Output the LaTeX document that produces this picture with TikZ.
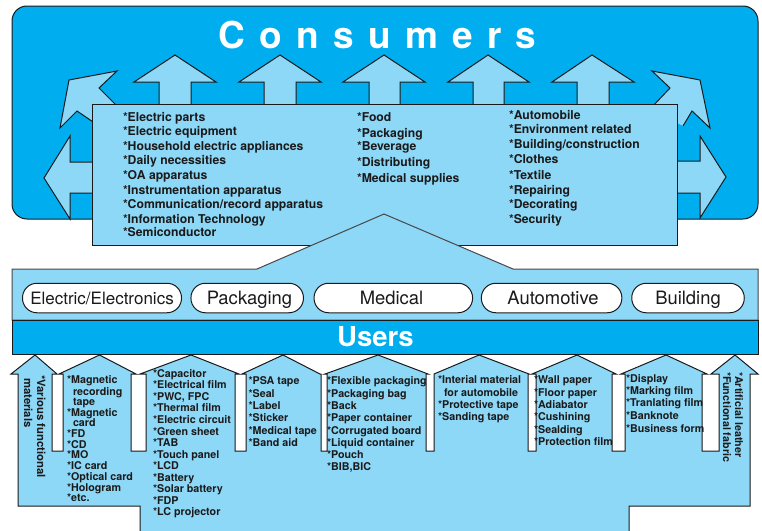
\documentclass[tikz,border=0pt]{standalone}
\usepackage{fontspec}
\setmainfont{TeX Gyre Heros}
\definecolor{deepblue}{HTML}{00AEEF}
\definecolor{paleblue}{HTML}{8DD7F7}
\definecolor{inkline}{HTML}{1A1A1A}
\tikzset{
  plate/.style={draw=inkline,line width=1pt,line join=miter,fill=paleblue},
  band/.style={draw=inkline,line width=1pt,fill=deepblue,inner sep=0pt,outer sep=0pt},
  pill/.style={draw=inkline,line width=1pt,fill=white,rounded corners=14.5pt,inner sep=0pt,outer sep=0pt,minimum height=29.5pt,text=inkline,text height=13pt,text depth=0pt,font=\fontsize{18.4}{20}\selectfont},
  itemtext/.style={anchor=base west,inner sep=0pt,outer sep=0pt,text=inkline,font=\bfseries\fontsize{10.7}{13}\selectfont},
  toptext/.style={itemtext,font=\bfseries\fontsize{12.2}{14}\selectfont},
  sidetext/.style={itemtext,rotate=-90},
  heading/.style={text=white,inner sep=0pt,outer sep=0pt,font=\bfseries}
}
\begin{document}
\begin{tikzpicture}[x=1pt,y=-1pt]
\useasboundingbox (0,0) rectangle (762,530);
% consumers panel
\node[band,rounded corners=15pt,minimum width=746pt,minimum height=213pt] (consumers) at (385,112.5) {};
\node[heading,font=\bfseries\fontsize{37}{40}\selectfont] (consumerstitle) at (377.5,35) {\spaceskip=14.3pt C o n s u m e r s};
% arrows leaving the centre box
\foreach \t/\l/\r/\sl/\sr in {175/134/216/159/191,280/239/321/264/296,384/343/425/369/400,488/448/529/473/504,592/552/634/577/609}
  \draw[plate] (\sl,110) -- (\sl,82) -- (\l,82) -- (\t,55) -- (\r,82) -- (\sr,82) -- (\sr,110);
\draw[plate] (99,126) -- (77,111) -- (60,128) -- (69,80) -- (117,71) -- (99,88) -- (120,109);
\draw[plate] (683,126) -- (692,111) -- (710,128) -- (700,80) -- (652,71) -- (670,88) -- (650,109);
\draw[plate] (98,162) -- (70,162) -- (70,136) -- (44,178) -- (70,219) -- (70,193) -- (98,193);
\draw[plate] (672,161) -- (700,161) -- (700,136) -- (726,177) -- (700,218) -- (700,193) -- (672,193);
% centre box
\node[plate,inner sep=0pt,outer sep=0pt,minimum width=585pt,minimum height=141pt] (applications) at (384.5,174.5) {};
\foreach \n/\y/\t in {1/117/{*Electric parts},2/131/{*Electric equipment},3/146/{*Household electric appliances},4/160/{*Daily necessities},5/175/{*OA apparatus},6/190/{*Instrumentation apparatus},7/204/{*Communication/record apparatus},8/219/{*Information Technology},9/232/{*Semiconductor}}
  \node[toptext] (ca\n) at (123,\y+4.4) {\t};
\foreach \n/\y/\t in {1/117/{*Food},2/133/{*Packaging},3/146/{*Beverage},4/162/{*Distributing},5/178/{*Medical supplies}}
  \node[toptext] (cb\n) at (357,\y+4.4) {\t};
\foreach \n/\y/\t in {1/115/{*Automobile},2/129/{*Environment related},3/144/{*Building/construction},4/159/{*Clothes},5/175/{*Textile},6/190/{*Repairing},7/204/{*Decorating},8/219/{*Security}}
  \node[toptext] (cc\n) at (509,\y+4.4) {\t};
% users panel
\draw[plate,draw=inkline!80] (12,320) -- (12,269) -- (257,269) -- (384,214) -- (513,269) -- (758,269) -- (758,320) -- cycle;
\node[pill,minimum width=159pt,font=\fontsize{17}{20}\selectfont] (electric) at (102,298) {Electric/Electronics};
\node[pill,minimum width=112.5pt] (packaging) at (247.2,298) {\hspace*{4.6pt}Packaging};
\node[pill,minimum width=158.5pt] (medical) at (393.3,298) {Medical\hspace*{3.6pt}};
\node[pill,minimum width=140.5pt] (automotive) at (551.6,298) {\hspace*{2.8pt}Automotive};
\node[pill,minimum width=112.5pt] (building) at (688,298) {Building};
\node[band,minimum width=746pt,minimum height=34pt] (users) at (385,337) {};
\node[heading,font=\bfseries\fontsize{27.5}{30}\selectfont] (userstitle) at (375.5,337) {Users};
% supply arrow
\draw[plate] (140,535) -- (140,506) -- (18,506) -- (18,374) -- (11,374) -- (35,355) -- (57,374) -- (52,374) -- (52,451) -- (63,451) -- (63,374) -- (59,374)
  -- (99.5,355) -- (136,374) -- (131,374) -- (131,451) -- (146,451) -- (146,374) -- (140,374)
  -- (191,355) -- (239,374) -- (235,374) -- (235,451) -- (246,451) -- (246,374) -- (242,374)
  -- (283,355) -- (320,374) -- (321,374) -- (321,451) -- (327,451) -- (327,374) -- (325,374)
  -- (378,355) -- (428,374) -- (426,374) -- (426,451) -- (434,451) -- (434,374)
  -- (479,355) -- (529,374) -- (528,374) -- (528,451) -- (536,451) -- (536,374) -- (532,374)
  -- (577,355) -- (616,374) -- (612,374) -- (612,451) -- (625,451) -- (625,374) -- (621,374)
  -- (666,355) -- (707,374) -- (702,374) -- (702,451) -- (719,451) -- (719,374) -- (711,374)
  -- (735,355) -- (758,374) -- (750,374) -- (750,506) -- (629,506) -- (629,535);
% supply lists
\node[sidetext,font=\bfseries\fontsize{11.3}{13}\selectfont] (va) at (37,375) {*Various functional};
\node[sidetext,font=\bfseries\fontsize{11.3}{13}\selectfont] (vb) at (24,378) {materials};
\foreach \n/\x/\y/\t in {1/67/379/{*Magnetic},2/73/391/{recording},3/73/401/{tape},4/67/412/{*Magnetic},5/73/422/{card},6/67/433/{*FD},7/67/444/{*CD},8/67/454/{*MO},9/67/465/{*IC card},10/67/476/{*Optical card},11/67/487/{*Hologram},12/67/497/{*etc.}}
  \node[itemtext] (la\n) at (\x,\y+4) {\t};
\foreach \n/\y/\t in {1/373/{*Capacitor},2/384/{*Electrical film},3/396/{*PWC, FPC},4/407/{*Thermal film},5/419/{*Electric circuit},6/431/{*Green sheet},7/442/{*TAB},8/454/{*Touch panel},9/465/{*LCD},10/477/{*Battery},11/488/{*Solar battery},12/500/{*FDP},13/511/{*LC projector}}
  \node[itemtext] (lb\n) at (153,\y+4) {\t};
\foreach \n/\y/\t in {1/380/{*PSA tape},2/393/{*Seal},3/405/{*Label},4/417/{*Sticker},5/430/{*Medical tape},6/442/{*Band aid}}
  \node[itemtext] (lc\n) at (248.5,\y+4) {\t};
\foreach \n/\y/\t in {1/380/{*Flexible packaging},2/393/{*Packaging bag},3/405/{*Back},4/417/{*Paper container},5/430/{*Corrugated board},6/442/{*Liquid container},7/454/{*Pouch},8/466/{*BIB,BIC}}
  \node[itemtext] (ld\n) at (327,\y+4) {\t};
\foreach \n/\x/\y/\t in {1/438/379/{*Interial material},2/444/392/{for automobile},3/438/404/{*Protective tape},4/438/416/{*Sanding tape}}
  \node[itemtext] (le\n) at (\x,\y+4) {\t};
\foreach \n/\y/\t in {1/379/{*Wall paper},2/392/{*Floor paper},3/404/{*Adiabator},4/416/{*Cushining},5/429/{*Sealding},6/441/{*Protection film}}
  \node[itemtext] (lf\n) at (534,\y+4) {\t};
\foreach \n/\y/\t in {1/378/{*Display},2/390/{*Marking film},3/402/{*Tranlating film},4/415/{*Banknote},5/428/{*Business form}}
  \node[itemtext] (lg\n) at (626,\y+4) {\t};
\node[sidetext] (ra) at (735,372) {*Artificial leather};
\node[sidetext] (rb) at (723,372) {*Functional fabric};
\end{tikzpicture}
\end{document}
